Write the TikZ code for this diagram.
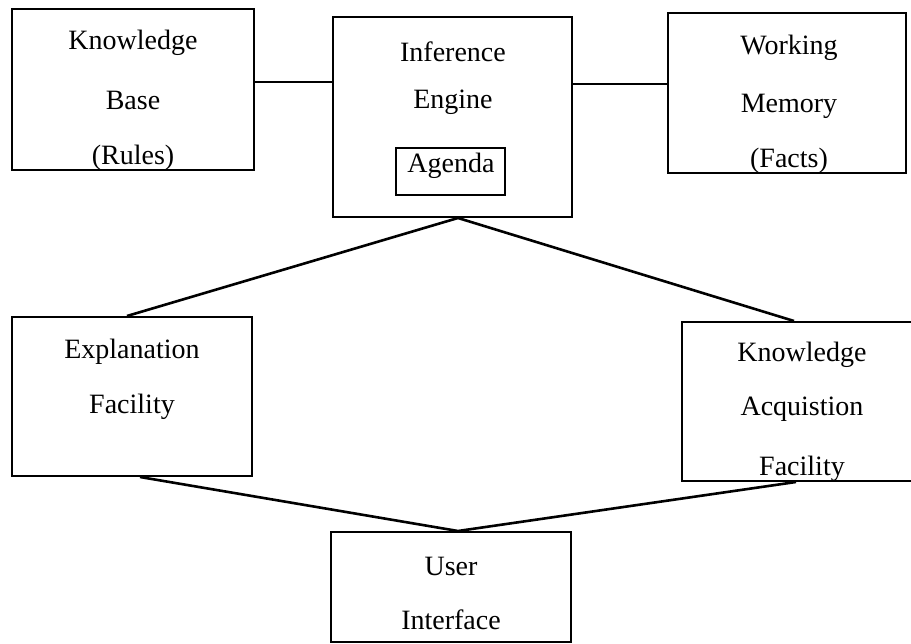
\documentclass[tikz,border=0pt]{standalone}
\usepackage{fontspec}
\setmainfont{Liberation Serif}
\begin{document}
\begin{tikzpicture}[x=1pt, y=-1pt,
  box/.style={draw, line width=2pt, inner sep=0pt},
  link/.style={line width=2.6pt},
  lbl/.style={font=\fontsize{28}{30}\selectfont, inner sep=0pt}]
\useasboundingbox (0,0) rectangle (911,644);
\clip (0,0) rectangle (911,644);

% component boxes
\node[box, minimum width=242pt, minimum height=161pt] (kb)  at (133,89.5)  {};
\node[box, minimum width=239pt, minimum height=200pt] (ie)  at (452.5,117) {};
\node[box, line width=1.8pt, minimum width=109pt, minimum height=47pt] (ag) at (450.5,171.5) {};
\node[box, minimum width=238pt, minimum height=160pt] (wm)  at (787,93)    {};
\node[box, minimum width=240pt, minimum height=159pt] (ef)  at (132,396.5) {};
\node[box, minimum width=240pt, minimum height=159pt] (kaf) at (802,401.5) {};
\node[box, minimum width=240pt, minimum height=110pt] (ui)  at (451,587)   {};

% labels
\node[lbl] (kb1) at (133,43)  {Knowledge};
\node[lbl] (kb2) at (133,100) {Base};
\node[lbl] (kb3) at (133,158) {(Rules)};

\node[lbl] (ie1) at (453,52)  {Inference};
\node[lbl] (ie2) at (453,102) {Engine};
\node[lbl] (ag1) at (451,166) {Agenda};

\node[lbl] (wm1) at (789,47.5) {Working};
\node[lbl] (wm2) at (789,106)  {Memory};
\node[lbl] (wm3) at (789,161)  {(Facts)};

\node[lbl] (ef1) at (132,352) {Explanation};
\node[lbl] (ef2) at (132,407) {Facility};

\node[lbl] (ka1) at (802,355) {Knowledge};
\node[lbl] (ka2) at (802,409) {Acquistion};
\node[lbl] (ka3) at (802,469) {Facility};

\node[lbl] (ui1) at (451,566) {User};
\node[lbl] (ui2) at (451,620) {Interface};

% connectors
\draw[link] ([yshift=7.5pt]kb.east) -- ([yshift=7.5pt]kb.east -| ie.west);
\draw[link] ([yshift=33pt]ie.east) -- ([yshift=33pt]ie.east -| wm.west);
\draw[link] ([xshift=-5pt]ef.north) -- ([xshift=5.5pt]ie.south) -- ([xshift=-8pt]kaf.north);
\draw[link] ([xshift=8pt]ef.south) -- ([xshift=7pt]ui.north) -- ([xshift=-6pt]kaf.south);
\end{tikzpicture}
\end{document}
